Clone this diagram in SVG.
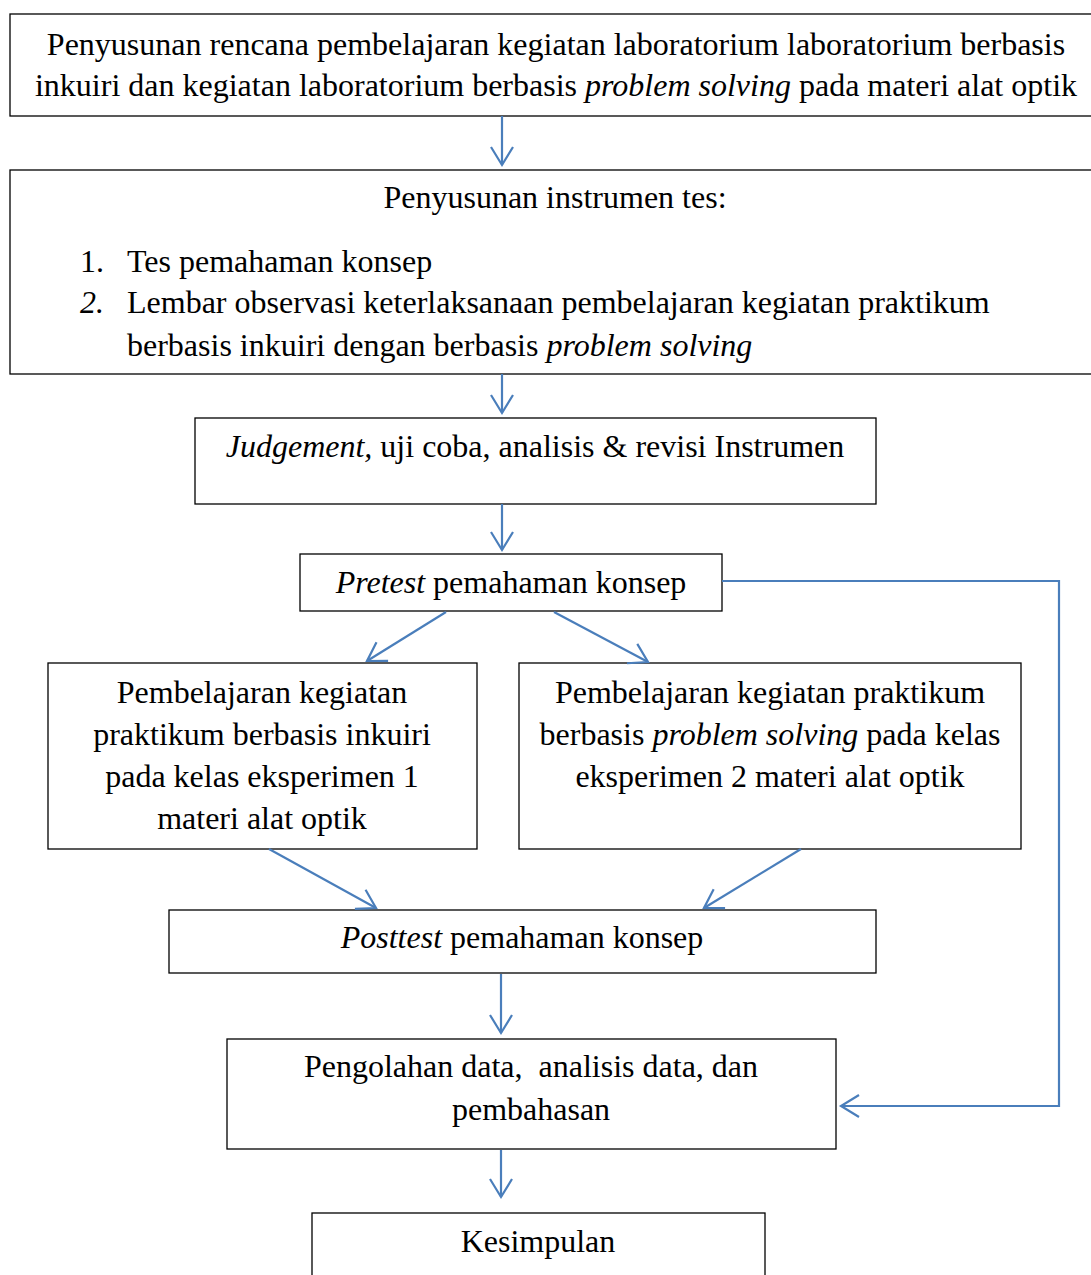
<svg xmlns="http://www.w3.org/2000/svg" width="1091" height="1275" viewBox="0 0 1091 1275">
<style>
.box{fill:#fff;stroke:#000;stroke-width:1.3}
text{font-family:"Liberation Serif","Times New Roman",serif;font-size:32px;fill:#000}
.c{text-anchor:middle}
.i{font-style:italic}
.con{fill:none;stroke:#4a7ebb;stroke-width:2.2}
</style>
<defs>
<marker id="ah" markerWidth="24" markerHeight="26" refX="20" refY="13" orient="auto" markerUnits="userSpaceOnUse" viewBox="0 0 24 26">
<path d="M2,2 L20,13 L2,24" fill="none" stroke="#4a7ebb" stroke-width="2.2"/>
</marker>
</defs>
<rect width="1091" height="1275" fill="#fff"/>
<g id="n1"><rect class="box" x="10" y="14" width="1090" height="102"/>
<text class="c" x="556" y="55">Penyusunan rencana pembelajaran kegiatan laboratorium laboratorium berbasis</text>
<text class="c" x="556" y="96">inkuiri dan kegiatan laboratorium berbasis <tspan class="i">problem solving</tspan> pada materi alat optik</text></g>
<g id="n2"><rect class="box" x="10" y="170" width="1090" height="204"/>
<text class="c" x="555" y="208">Penyusunan instrumen tes:</text>
<text x="80" y="272">1.</text><text x="127" y="272">Tes pemahaman konsep</text>
<text x="80" y="313" class="i">2.</text><text x="127" y="313">Lembar observasi keterlaksanaan pembelajaran kegiatan praktikum</text>
<text x="127" y="356">berbasis inkuiri dengan berbasis <tspan class="i">problem solving</tspan></text></g>
<g id="n3"><rect class="box" x="195" y="418" width="681" height="86"/>
<text class="c" x="535" y="457"><tspan class="i">Judgement,</tspan> uji coba, analisis &amp; revisi Instrumen</text></g>
<g id="n4"><rect class="box" x="300" y="554" width="422" height="57"/>
<text class="c" x="511" y="593"><tspan class="i">Pretest</tspan> pemahaman konsep</text></g>
<g id="n5"><rect class="box" x="48" y="663" width="429" height="186"/>
<text class="c" x="262" y="703">Pembelajaran kegiatan</text>
<text class="c" x="262" y="745">praktikum berbasis inkuiri</text>
<text class="c" x="262" y="787">pada kelas eksperimen 1</text>
<text class="c" x="262" y="829">materi alat optik</text></g>
<g id="n6"><rect class="box" x="519" y="663" width="502" height="186"/>
<text class="c" x="770" y="703">Pembelajaran kegiatan praktikum</text>
<text class="c" x="770" y="745">berbasis <tspan class="i">problem solving</tspan> pada kelas</text>
<text class="c" x="770" y="787">eksperimen 2 materi alat optik</text></g>
<g id="n7"><rect class="box" x="169" y="910" width="707" height="63"/>
<text class="c" x="522" y="948"><tspan class="i">Posttest</tspan> pemahaman konsep</text></g>
<g id="n8"><rect class="box" x="227" y="1039" width="609" height="110"/>
<text class="c" x="531" y="1077" style="white-space:pre">Pengolahan data,  analisis data, dan</text>
<text class="c" x="531" y="1120">pembahasan</text></g>
<g id="n9"><rect class="box" x="312" y="1213" width="453" height="80"/>
<text class="c" x="538" y="1252">Kesimpulan</text></g>
<g id="connectors">
<line class="con" x1="502" y1="116" x2="502" y2="165" marker-end="url(#ah)"/>
<line class="con" x1="502" y1="374" x2="502" y2="413" marker-end="url(#ah)"/>
<line class="con" x1="502" y1="504" x2="502" y2="550" marker-end="url(#ah)"/>
<line class="con" x1="446" y1="612" x2="367" y2="661" marker-end="url(#ah)"/>
<line class="con" x1="554" y1="612" x2="648" y2="662" marker-end="url(#ah)"/>
<line class="con" x1="269" y1="849" x2="376" y2="908" marker-end="url(#ah)"/>
<line class="con" x1="801" y1="849" x2="704" y2="908" marker-end="url(#ah)"/>
<line class="con" x1="501" y1="974" x2="501" y2="1033" marker-end="url(#ah)"/>
<line class="con" x1="501" y1="1150" x2="501" y2="1197" marker-end="url(#ah)"/>
<polyline class="con" points="722,581 1059,581 1059,1106 841,1106" marker-end="url(#ah)"/>
</g>
</svg>
